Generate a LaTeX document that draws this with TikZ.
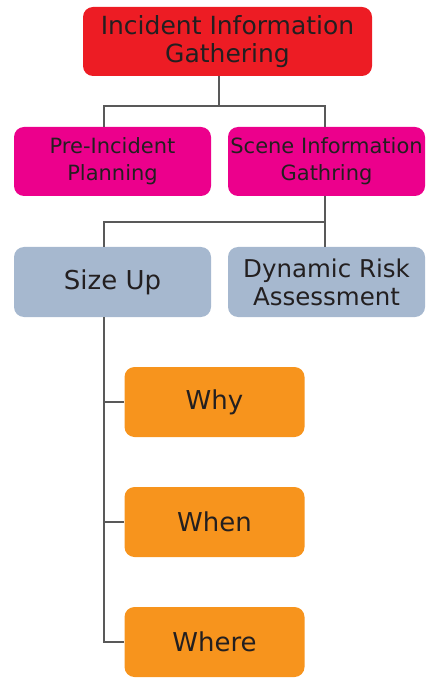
\documentclass[tikz,border=0pt]{standalone}
\usepackage{fontspec}
\setmainfont{DejaVu Sans}

\definecolor{topred}{HTML}{ED1C24}
\definecolor{pink}{HTML}{EC008C}
\definecolor{slate}{HTML}{A6B8CF}
\definecolor{amber}{HTML}{F7941D}
\definecolor{ink}{HTML}{231F20}

\tikzset{
    box/.style={rounded corners=10pt, minimum height=69pt, align=center,
        text=ink, inner sep=0pt, font=\fontsize{24.5}{28}\selectfont},
    link/.style={draw=black!65, line width=1.4pt}
}

\begin{document}
\begin{tikzpicture}[x=1pt, y=1pt]
    \useasboundingbox (0,0) rectangle (436,-684);
    % boxes
    \node[box, fill=topred, minimum width=289pt, font=\fontsize{25}{28}\selectfont] (top) at (227.5,-41.5) {Incident Information\\Gathering};
    \node[box, fill=pink, minimum width=197pt, font=\fontsize{21}{27}\selectfont] (pre) at (112.5,-161.5) {Pre-Incident\\Planning};
    \node[box, fill=pink, minimum width=197pt, font=\fontsize{21}{27}\selectfont] (scene) at (326.5,-161.5) {Scene Information\\Gathring};
    \node[box, fill=slate, minimum width=197pt, minimum height=70pt, font=\fontsize{26}{28}\selectfont] (size) at (112.5,-282) {Size Up};
    \node[box, fill=slate, minimum width=197pt, minimum height=70pt] (risk) at (326.5,-282) {Dynamic Risk\\Assessment};
    \node[box, fill=amber, minimum width=180pt, minimum height=70pt, font=\fontsize{26}{28}\selectfont] (why) at (214.5,-402) {Why};
    \node[box, fill=amber, minimum width=180pt, minimum height=70pt, font=\fontsize{26}{28}\selectfont] (when) at (214.5,-522) {When};
    \node[box, fill=amber, minimum width=180pt, minimum height=70pt, font=\fontsize{26}{28}\selectfont] (where) at (214.5,-642) {Where};
    % connectors
    \coordinate (j1) at (219,-106);
    \coordinate (l1) at (104,-106);
    \coordinate (r1) at (325,-106);
    \coordinate (l2) at (104,-222);
    \coordinate (r2) at (325,-222);
    \coordinate (s1) at (104,-402);
    \coordinate (s2) at (104,-522);
    \coordinate (s3) at (104,-642);
    \draw[link] (j1 |- top.south) -- (j1);
    \draw[link] (l1 |- pre.north) -- (l1) -- (r1) -- (r1 |- scene.north);
    \draw[link] (r2 |- scene.south) -- (r2 |- risk.north);
    \draw[link] (r2) -- (l2) -- (l2 |- size.north);
    \draw[link] (s1 |- size.south) -- (s3) -- (where.west);
    \draw[link] (s1) -- (why.west);
    \draw[link] (s2) -- (when.west);
\end{tikzpicture}
\end{document}
